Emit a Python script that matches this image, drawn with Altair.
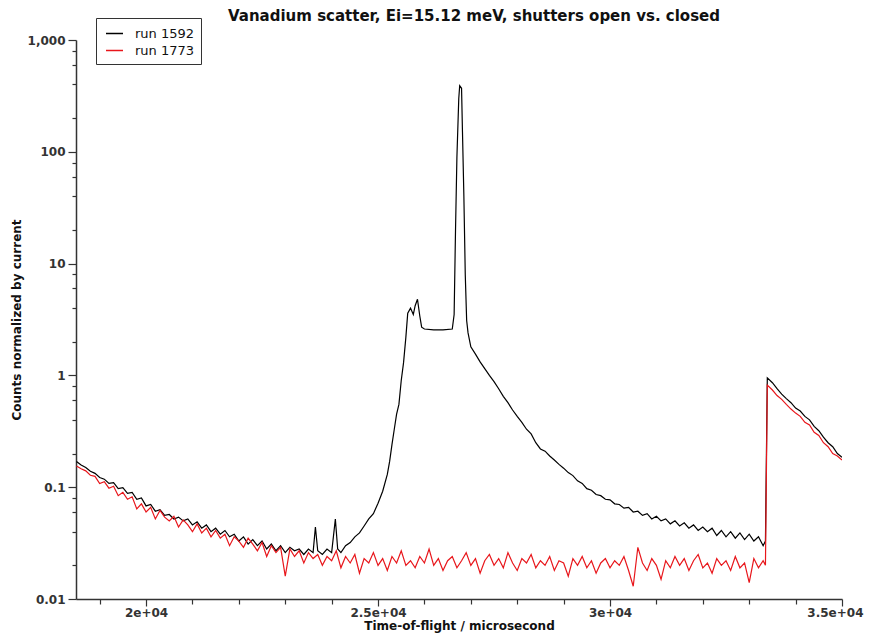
import altair as alt
import pandas as pd

# ---- data (time-of-flight in microseconds, counts normalized) ----
red_bins = list(range(18500, 33400, 100))
red_vals = [
    0.155, 0.146, 0.140, 0.128, 0.125, 0.108, 0.112, 0.098, 0.102, 0.084,
    0.090, 0.078, 0.082, 0.064, 0.071, 0.060, 0.066, 0.052, 0.062, 0.054,
    0.050, 0.055, 0.044, 0.051, 0.046, 0.040, 0.047, 0.039, 0.043, 0.036,
    0.041, 0.035, 0.038, 0.030, 0.036, 0.033, 0.029, 0.035, 0.031, 0.027,
    0.032, 0.024, 0.030, 0.026, 0.029, 0.016, 0.028, 0.024, 0.027, 0.021,
    0.026, 0.023, 0.025, 0.020, 0.024, 0.022, 0.027, 0.019, 0.024, 0.021,
    0.025, 0.017, 0.023, 0.021, 0.026, 0.020, 0.023, 0.018, 0.024, 0.021,
    0.027, 0.020, 0.022, 0.019, 0.024, 0.021, 0.028, 0.020, 0.023, 0.018,
    0.022, 0.024, 0.019, 0.022, 0.026, 0.020, 0.023, 0.017, 0.022, 0.025,
    0.020, 0.023, 0.019, 0.026, 0.021, 0.018, 0.023, 0.021, 0.025, 0.019,
    0.022, 0.020, 0.024, 0.018, 0.022, 0.021, 0.016, 0.023, 0.020, 0.024,
    0.019, 0.022, 0.017, 0.021, 0.023, 0.019, 0.022, 0.020, 0.024, 0.018,
    0.013, 0.029, 0.021, 0.018, 0.023, 0.020, 0.015, 0.022, 0.019, 0.024,
    0.020, 0.023, 0.018, 0.022, 0.025, 0.019, 0.021, 0.017, 0.023, 0.020,
    0.022, 0.018, 0.024, 0.019, 0.021, 0.014, 0.023, 0.019, 0.022,
]
red_tail_t = [33350, 33390, 33500, 33600, 33700, 33800, 33900, 34000, 34100,
              34200, 34300, 34400, 34500, 34600, 34700, 34800, 34900, 35000]
red_tail_v = [0.020, 0.82, 0.74, 0.66, 0.61, 0.55, 0.50, 0.46, 0.43,
              0.38, 0.36, 0.31, 0.29, 0.25, 0.23, 0.20, 0.19, 0.175]

black_left_bins = list(range(18500, 23700, 100))
black_left_vals = [
    0.170, 0.158, 0.150, 0.139, 0.133, 0.122, 0.118, 0.108, 0.110, 0.097,
    0.099, 0.088, 0.090, 0.078, 0.080, 0.068, 0.070, 0.061, 0.063, 0.056,
    0.057, 0.052, 0.054, 0.050, 0.052, 0.046, 0.049, 0.043, 0.046, 0.040,
    0.043, 0.038, 0.041, 0.036, 0.038, 0.033, 0.036, 0.031, 0.034, 0.030,
    0.033, 0.028, 0.031, 0.027, 0.030, 0.026, 0.029, 0.027, 0.028, 0.025,
    0.028, 0.026,
]
black_peak_t = [23650, 23700, 23800, 23900, 24000, 24080, 24130, 24200, 24300,
                24400, 24500, 24600, 24700, 24800, 24900, 25000, 25100, 25200,
                25250, 25300, 25350, 25400, 25450, 25500, 25550, 25600, 25640,
                25700, 25760, 25800, 25850, 25900, 25940, 26000, 26200, 26400,
                26600, 26640, 26670, 26700, 26740, 26760, 26800, 26820, 26850,
                26880, 26910, 26940]
black_peak_v = [0.044, 0.027, 0.025, 0.028, 0.026, 0.052, 0.028, 0.026, 0.030,
                0.032, 0.036, 0.039, 0.045, 0.052, 0.058, 0.072, 0.092, 0.13,
                0.17, 0.24, 0.33, 0.45, 0.55, 0.9, 1.3, 2.2, 3.6,
                4.0, 3.5, 4.2, 4.8, 3.4, 2.7, 2.6, 2.55, 2.55,
                2.6, 3.5, 20, 90, 300, 390, 370, 150, 40,
                8, 3.1, 2.4]
black_tail_bins = list(range(27000, 33400, 100))
black_tail_vals = [
    1.80, 1.55, 1.32, 1.15, 1.00, 0.88, 0.76, 0.65, 0.57, 0.49,
    0.43, 0.38, 0.33, 0.30, 0.25, 0.22, 0.21, 0.19, 0.175, 0.16,
    0.148, 0.135, 0.127, 0.114, 0.108, 0.097, 0.094, 0.086, 0.084, 0.078,
    0.077, 0.071, 0.070, 0.065, 0.066, 0.060, 0.061, 0.056, 0.058, 0.052,
    0.055, 0.050, 0.052, 0.047, 0.050, 0.045, 0.048, 0.043, 0.046, 0.041,
    0.044, 0.040, 0.043, 0.037, 0.041, 0.036, 0.040, 0.035, 0.039, 0.034,
    0.038, 0.033, 0.036, 0.030,
]
black_end_t = [33350, 33390, 33500, 33600, 33700, 33800, 33900, 34000, 34100,
               34200, 34300, 34400, 34500, 34600, 34700, 34800, 34900, 35000]
black_end_v = [0.033, 0.95, 0.86, 0.76, 0.68, 0.62, 0.57, 0.51, 0.48,
               0.43, 0.40, 0.35, 0.32, 0.28, 0.25, 0.23, 0.20, 0.185]

series_names = ["run 1592", "run 1773"]
series_colors = ["#000000", "#e8161b"]

x_ticks = list(range(19000, 35001, 1000))
y_ticks = [0.01, 0.02, 0.04, 0.06, 0.08, 0.1, 0.2, 0.4, 0.6, 0.8, 1, 2, 4, 6, 8,
           10, 20, 40, 60, 80, 100, 200, 400, 600, 800, 1000]

# ---- tables ----
black_t = black_left_bins + black_peak_t + black_tail_bins + black_end_t
black_v = black_left_vals + black_peak_v + black_tail_vals + black_end_v
red_t = red_bins + red_tail_t
red_v = red_vals + red_tail_v

df_black = pd.DataFrame({"t": black_t, "v": black_v, "run": series_names[0]})
df_red = pd.DataFrame({"t": red_t, "v": red_v, "run": series_names[1]})

FONT = "DejaVu Sans"
decade = "abs(log(datum.value)/LN10 - round(log(datum.value)/LN10)) < 0.001"

x_enc = alt.X(
    "t:Q",
    scale=alt.Scale(domain=[18490, 35000], nice=False, zero=False),
    axis=alt.Axis(
        values=x_ticks,
        labelExpr="datum.value % 5000 == 0 ? replace(format(datum.value, '.1~e'), 'e+', 'e+0') : ''",
        tickSize={"condition": {"test": "datum.value % 5000 == 0", "value": 7}, "value": 5},
        labelFlush=True,
        labelFlushOffset=21,
        labelOverlap=False,
        labelPadding=1,
        grid=False,
        title="Time-of-flight / microsecond",
        titlePadding=2,
    ),
)
y_enc = alt.Y(
    "v:Q",
    scale=alt.Scale(type="log", domain=[0.01, 1000], nice=False),
    axis=alt.Axis(
        values=y_ticks,
        labelExpr=decade + " ? format(datum.value, ',') : ''",
        tickSize={"condition": {"test": decade, "value": 8}, "value": 4},
        labelOverlap=False,
        labelPadding=3,
        grid=False,
        title="Counts normalized by current",
        titlePadding=4,
    ),
)
color_enc = alt.Color(
    "run:N",
    scale=alt.Scale(domain=series_names, range=series_colors),
    legend=alt.Legend(
        orient="none",
        legendX=20,
        legendY=-22,
        title=None,
        strokeColor="#333333",
        fillColor="white",
        padding=6,
        symbolType="stroke",
        symbolSize=289,
        symbolStrokeWidth=1.5,
        symbolOffset=3,
        labelFont=FONT,
        labelFontSize=13,
        labelColor="#111111",
        labelOffset=11,
        rowPadding=0,
    ),
)

black_line = alt.Chart(df_black).mark_line(
    strokeWidth=1.2, clip=True
).encode(x=x_enc, y=y_enc, color=color_enc)
red_line = alt.Chart(df_red).mark_line(
    strokeWidth=1.2, clip=True
).encode(x=x_enc, y=y_enc, color=color_enc)

chart = (
    alt.layer(black_line, red_line)
    .properties(
        width=766,
        height=559,
        autosize=alt.AutoSizeParams(type="none"),
        padding={"left": 68, "top": 32, "right": 22, "bottom": 34},
        title=alt.TitleParams(
            "Vanadium scatter, Ei=15.12 meV, shutters open vs. closed",
            font=FONT,
            fontSize=15,
            fontWeight="bold",
            anchor="middle",
            dx=15,
            dy=6,
            offset=0,
            color="#111111",
        ),
    )
    .configure_view(stroke=None)
    .configure_axis(
        labelFont=FONT,
        labelFontSize=12,
        labelFontWeight="bold",
        labelColor="#333333",
        titleFont=FONT,
        titleFontSize=12,
        titleFontWeight="bold",
        titleColor="#111111",
        domainColor="#333333",
        domainWidth=1.5,
        tickColor="#333333",
        tickWidth=1.2,
    )
)

chart.save("out.html", embed_options={"renderer": "svg", "actions": False})
